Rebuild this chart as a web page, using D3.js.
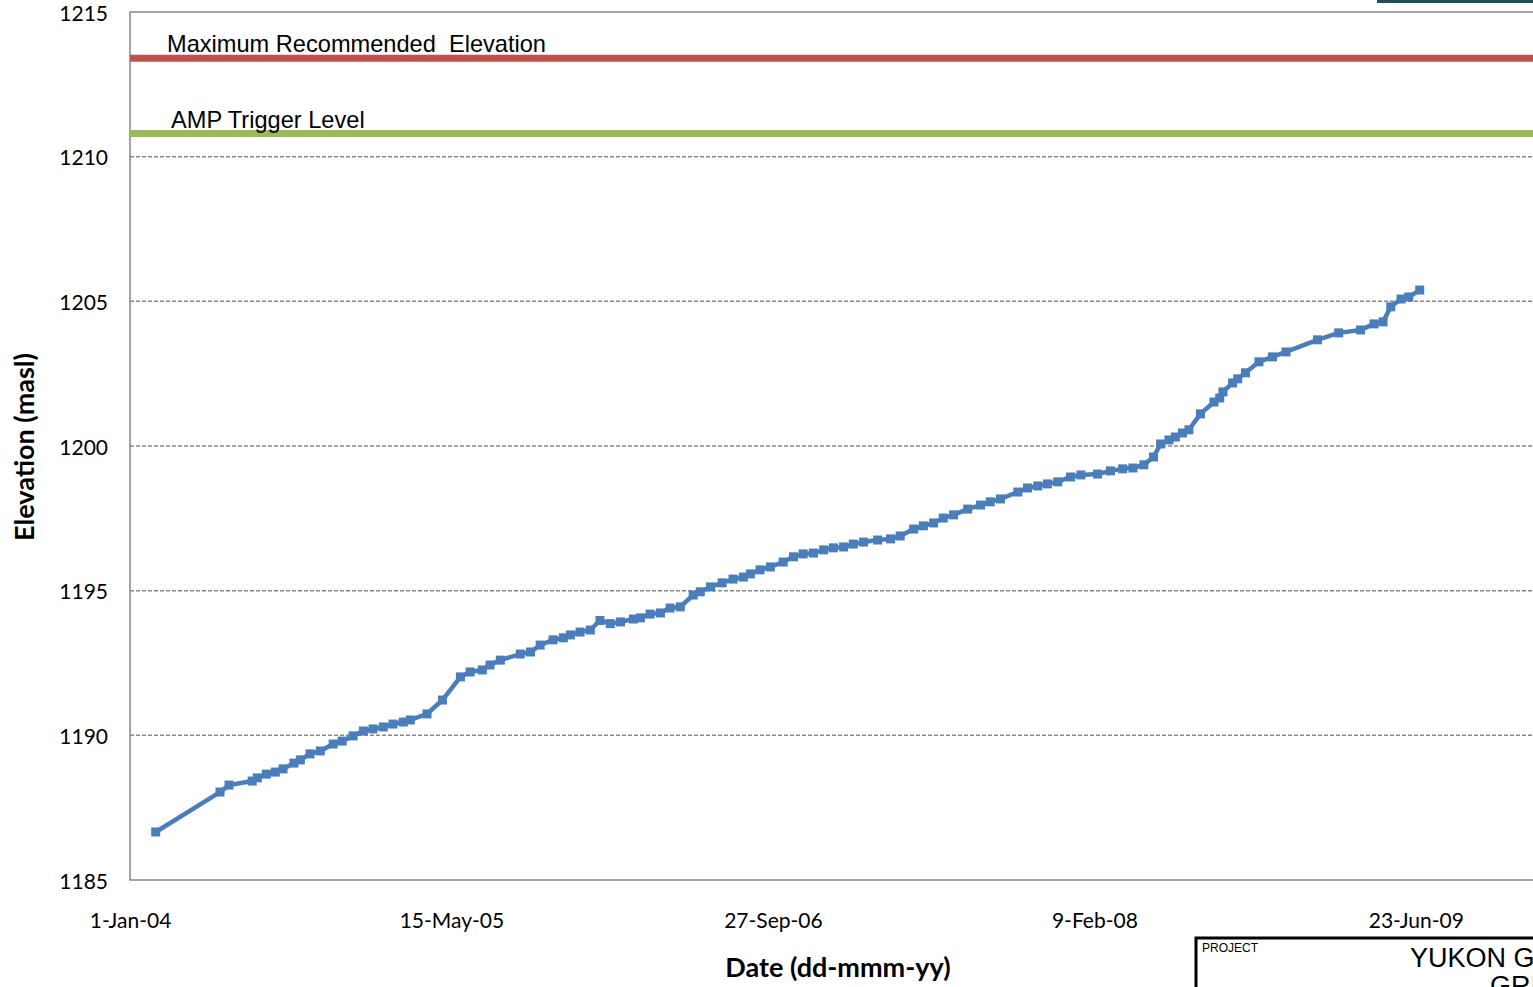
<!DOCTYPE html>
<html>
<head>
<meta charset="utf-8">
<script src="https://cdn.jsdelivr.net/npm/d3@7"></script>
<style>
  html, body { margin: 0; padding: 0; background: #fff; overflow: hidden; }
  svg { display: block; }
</style>
</head>
<body>
<svg id="chart" width="1533" height="987"></svg>
<script>
// Reservoir elevation readings (masl) by survey date
const surveyDates = [
  "2004-02-10","2004-05-20","2004-06-03","2004-07-09","2004-07-17","2004-07-31","2004-08-14","2004-08-26",
  "2004-09-12","2004-09-22","2004-10-07","2004-10-23","2004-11-12","2004-11-26","2004-12-13","2004-12-29",
  "2005-01-13","2005-01-29","2005-02-13","2005-03-01","2005-03-12","2005-04-07","2005-05-01","2005-05-29",
  "2005-06-13","2005-07-02","2005-07-14","2005-07-30","2005-08-30","2005-09-15","2005-09-30","2005-10-20",
  "2005-11-05","2005-11-16","2005-12-01","2005-12-17","2006-01-01","2006-01-17","2006-02-02","2006-02-22",
  "2006-03-05","2006-03-20","2006-04-05","2006-04-20","2006-05-06","2006-05-26","2006-06-06","2006-06-22",
  "2006-07-10","2006-07-27","2006-08-12","2006-08-23","2006-09-07","2006-09-23","2006-10-13","2006-10-29",
  "2006-11-13","2006-11-29","2006-12-15","2006-12-30","2007-01-15","2007-01-30","2007-02-15","2007-03-09",
  "2007-03-29","2007-04-13","2007-05-04","2007-05-19","2007-06-04","2007-06-19","2007-07-05","2007-07-27",
  "2007-08-16","2007-08-31","2007-09-16","2007-10-13","2007-10-28","2007-11-13","2007-11-28","2007-12-14",
  "2008-01-03","2008-01-19","2008-02-14","2008-03-05","2008-03-24","2008-04-09","2008-04-26","2008-05-11",
  "2008-05-22","2008-06-04","2008-06-14","2008-06-25","2008-07-05","2008-07-23","2008-08-13","2008-08-22",
  "2008-08-27","2008-09-11","2008-09-19","2008-10-01","2008-10-22","2008-11-12","2008-12-03","2009-01-21",
  "2009-02-23","2009-03-29","2009-04-19","2009-05-03","2009-05-15","2009-05-31","2009-06-12","2009-06-29"
];
const elevations = [
  1186.66,1188.04,1188.28,1188.42,1188.53,1188.66,1188.73,1188.84,
  1189.04,1189.15,1189.36,1189.46,1189.70,1189.80,1189.98,1190.15,
  1190.22,1190.29,1190.39,1190.46,1190.53,1190.74,1191.22,1192.02,
  1192.19,1192.26,1192.43,1192.60,1192.81,1192.88,1193.12,1193.30,
  1193.37,1193.47,1193.57,1193.64,1193.97,1193.86,1193.92,1194.02,
  1194.06,1194.19,1194.23,1194.40,1194.44,1194.85,1194.96,1195.13,
  1195.27,1195.40,1195.47,1195.58,1195.72,1195.82,1195.99,1196.17,
  1196.27,1196.30,1196.41,1196.48,1196.51,1196.61,1196.68,1196.75,
  1196.79,1196.89,1197.13,1197.24,1197.34,1197.51,1197.62,1197.82,
  1197.96,1198.07,1198.17,1198.41,1198.55,1198.62,1198.69,1198.76,
  1198.93,1199.00,1199.03,1199.14,1199.21,1199.24,1199.35,1199.62,
  1200.07,1200.21,1200.31,1200.45,1200.56,1201.11,1201.52,1201.66,
  1201.87,1202.18,1202.32,1202.53,1202.91,1203.08,1203.25,1203.67,
  1203.91,1204.01,1204.22,1204.29,1204.81,1205.08,1205.15,1205.39
];

// Reference levels
const limitNames = ["Maximum Recommended  Elevation", "AMP Trigger Level"];
const limitValues = [1213.4, 1210.8];
const limitColors = ["#c0504d", "#9bbb59"];

// Axes
const xTickDates = ["2004-01-01","2005-05-15","2006-09-27","2008-02-09","2009-06-23"];
const yTickValues = [1185, 1190, 1195, 1200, 1205, 1210, 1215];
const xDomain = ["2004-01-01", "2010-11-03"];
const yDomain = [1185, 1215];

const parse = d3.utcParse("%Y-%m-%d");
const fmt = d3.utcFormat("%-d-%b-%y");

const margin = { left: 130, top: 12, bottom: 880 };
const plotRight = 1736;

const svg = d3.select("#chart");

const x = d3.scaleUtc().domain(xDomain.map(parse)).range([margin.left, plotRight]);
const y = d3.scaleLinear().domain(yDomain).range([margin.bottom, margin.top]);

const axisGrey = "#878787";
const tickFont = "Lato, 'Open Sans', sans-serif";
const arial = "'Liberation Sans', Arial, sans-serif";

// Dashed horizontal gridlines
svg.append("g")
  .selectAll("line")
  .data(yTickValues.filter(v => v !== yDomain[0] && v !== yDomain[1]))
  .join("line")
  .attr("x1", margin.left).attr("x2", plotRight)
  .attr("y1", d => y(d)).attr("y2", d => y(d))
  .attr("stroke", axisGrey)
  .attr("stroke-width", 1.5)
  .attr("stroke-dasharray", "4,2");

// Plot frame
svg.append("rect")
  .attr("x", margin.left).attr("y", margin.top)
  .attr("width", plotRight - margin.left).attr("height", margin.bottom - margin.top)
  .attr("fill", "none")
  .attr("stroke", axisGrey)
  .attr("stroke-width", 1.5);

// Y axis labels
const yAxis = d3.axisLeft(y).tickValues(yTickValues).tickSize(0).tickPadding(22).tickFormat(d3.format("d"));
const gy = svg.append("g").attr("transform", `translate(${margin.left},1.5)`).call(yAxis);
gy.select(".domain").remove();
gy.selectAll("text")
  .attr("font-family", tickFont)
  .attr("font-size", 21)
  .attr("fill", "#000");

// X axis labels
const xAxis = d3.axisBottom(x).tickValues(xTickDates.map(parse)).tickSize(0).tickPadding(33).tickFormat(fmt);
const gx = svg.append("g").attr("transform", `translate(0,${margin.bottom})`).call(xAxis);
gx.select(".domain").remove();
gx.selectAll("text")
  .attr("font-family", tickFont)
  .attr("font-size", 21)
  .attr("fill", "#000");

// Axis titles
svg.append("text")
  .attr("x", 838).attr("y", 977)
  .attr("text-anchor", "middle")
  .attr("font-family", tickFont)
  .attr("font-weight", "bold")
  .attr("font-size", 27)
  .text("Date (dd-mmm-yy)");

svg.append("text")
  .attr("transform", "translate(34,447) rotate(-90)")
  .attr("text-anchor", "middle")
  .attr("font-family", tickFont)
  .attr("font-weight", "bold")
  .attr("font-size", 27)
  .text("Elevation (masl)");

// Reference level lines and labels
limitValues.forEach((v, i) => {
  svg.append("line")
    .attr("x1", margin.left).attr("x2", plotRight)
    .attr("y1", y(v)).attr("y2", y(v))
    .attr("stroke", limitColors[i])
    .attr("stroke-width", 7);
  svg.append("text")
    .attr("x", i === 0 ? 167 : 171)
    .attr("y", y(v) - 6)
    .attr("font-family", arial)
    .attr("font-size", 23.6)
    .attr("fill", "#000")
    .style("white-space", "pre")
    .attr("xml:space", "preserve")
    .text(limitNames[i]);
});

// Elevation series
const data = surveyDates.map((d, i) => ({ date: parse(d), value: elevations[i] }));
const blue = "#4a7ebb";

svg.append("path")
  .datum(data)
  .attr("fill", "none")
  .attr("stroke", blue)
  .attr("stroke-width", 4.5)
  .attr("stroke-linejoin", "round")
  .attr("d", d3.line().x(d => x(d.date)).y(d => y(d.value)));

svg.append("g")
  .selectAll("rect")
  .data(data)
  .join("rect")
  .attr("x", d => x(d.date) - 4.5)
  .attr("y", d => y(d.value) - 4.5)
  .attr("width", 9).attr("height", 9)
  .attr("fill", blue);

// Title block in the lower-right corner of the sheet
const tb = svg.append("g");
tb.append("rect")
  .attr("x", 1196).attr("y", 938)
  .attr("width", 400).attr("height", 100)
  .attr("fill", "#fff")
  .attr("stroke", "#000")
  .attr("stroke-width", 3);
tb.append("text")
  .attr("x", 1202).attr("y", 952)
  .attr("font-family", arial)
  .attr("font-size", 12)
  .text("PROJECT");
tb.append("text")
  .attr("x", 1410).attr("y", 967)
  .attr("font-family", arial)
  .attr("font-size", 27)
  .text("YUKON GOLD");
tb.append("text")
  .attr("x", 1490).attr("y", 995)
  .attr("font-family", arial)
  .attr("font-size", 27)
  .text("GRID");

// Sheet header strip at the top-right edge
svg.append("rect")
  .attr("x", 1377).attr("y", 0)
  .attr("width", 160).attr("height", 3)
  .attr("fill", "#1d4e5a");
</script>
</body>
</html>
